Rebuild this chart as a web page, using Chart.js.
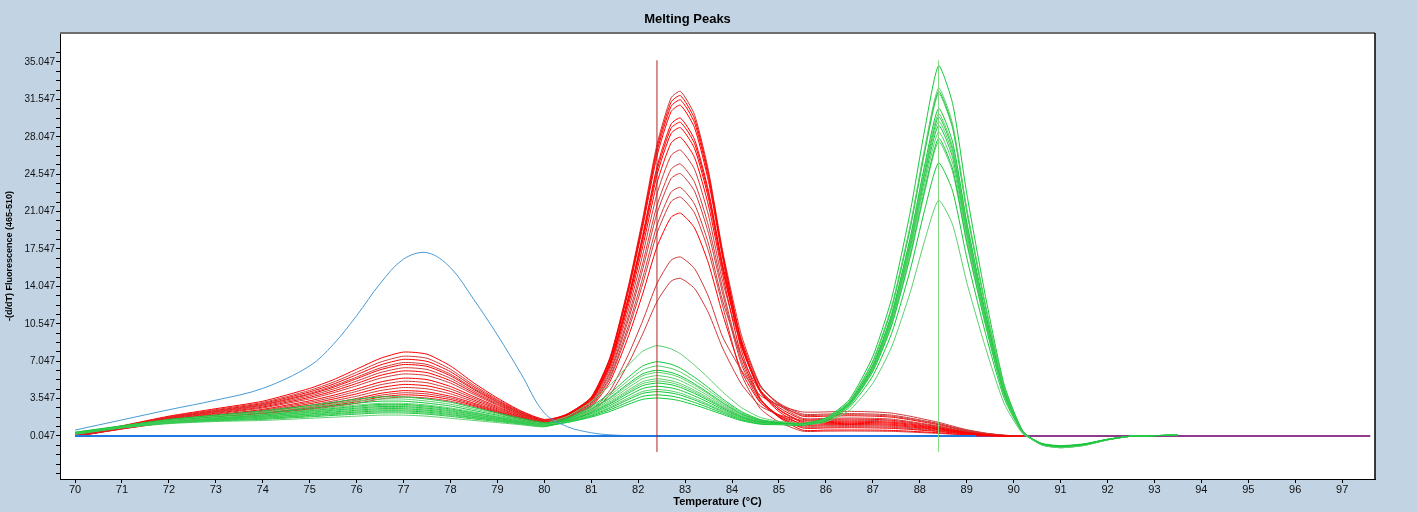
<!DOCTYPE html>
<html lang="en">
  <head>
    <meta charset="UTF-8" />
    <title>Melting Peaks</title>
    <script src="https://cdn.jsdelivr.net/npm/chart.js@4.4.0/dist/chart.umd.min.js"></script>
    <style>
      html,
      body {
        margin: 0;
        padding: 0;
        background: #c2d4e4;
      }
      .wrap {
        width: 1417px;
        height: 512px;
        position: relative;
      }
    </style>
  </head>
  <body>
    <div class="wrap"><canvas id="peaks"></canvas></div>

    <script>
      // temperature grid shared by all curves (°C)
      const temps = [
        70, 71, 72, 73, 74, 75, 75.5, 76, 76.5, 77, 77.5, 78, 78.5, 79, 79.5,
        80, 80.5, 81, 81.4, 81.8, 82.1, 82.4, 82.7, 82.9, 83.2, 83.5, 83.8,
        84.2, 84.6, 85, 85.5, 86, 86.5, 87, 87.4, 87.8, 88.1, 88.4, 88.7, 89,
        89.4, 89.8, 90.2, 90.6, 91, 91.5, 92, 92.5, 93.5,
      ];

      const xTicks = [
        70, 71, 72, 73, 74, 75, 76, 77, 78, 79, 80, 81, 82, 83, 84, 85, 86, 87,
        88, 89, 90, 91, 92, 93, 94, 95, 96, 97,
      ];
      const yMajor = [
        0.047, 3.547, 7.047, 10.547, 14.047, 17.547, 21.047, 24.547, 28.047,
        31.547, 35.047,
      ];
      const yTickLabels = [
        "0.047", "3.547", "7.047", "10.547", "14.047", "17.547", "21.047",
        "24.547", "28.047", "31.547", "35.047",
      ];

      // red samples (values up to 90.2 °C)
      const redCurves = [
        [0.15,1.0,1.9,2.6,3.3,4.5,5.3,6.3,7.3,7.9,7.7,6.6,5.0,3.6,2.4,1.6,2.05,3.46,6.84,13.04,18.68,24.89,28.84,29.4,27.43,22.63,15.86,8.45,4.22,2.53,1.4,1.4,1.43,1.4,1.33,1.15,0.98,0.81,0.59,0.39,0.2,0.07,0.05],
        [0.14,0.97,1.84,2.51,3.18,4.31,5.07,6.0,6.95,7.51,7.32,6.29,4.8,3.47,2.33,1.55,1.86,2.97,5.62,10.48,14.9,19.76,22.86,23.3,21.75,18.0,12.69,7.53,4.21,2.88,2.0,2.0,2.04,2.0,1.9,1.64,1.4,1.16,0.84,0.56,0.28,0.1,0.05],
        [0.13,0.95,1.8,2.44,3.09,4.17,4.89,5.78,6.68,7.22,7.03,6.06,4.64,3.37,2.27,1.52,2.12,3.66,7.34,14.09,20.23,26.99,31.29,31.9,29.75,24.53,17.16,8.78,4.17,2.33,1.1,1.1,1.12,1.1,1.05,0.9,0.77,0.64,0.46,0.31,0.15,0.06,0.05],
        [0.12,0.93,1.76,2.37,3.0,4.03,4.72,5.55,6.41,6.92,6.74,5.83,4.49,3.27,2.21,1.48,1.67,2.45,4.32,7.75,10.87,14.3,16.49,16.8,15.71,13.06,9.31,6.2,3.86,2.92,2.3,2.3,2.35,2.3,2.19,1.89,1.61,1.33,0.97,0.64,0.32,0.12,0.05],
        [0.11,0.92,1.73,2.32,2.94,3.94,4.6,5.41,6.24,6.73,6.56,5.68,4.39,3.21,2.18,1.46,2.0,3.34,6.56,12.46,17.82,23.71,27.46,28.0,26.12,21.57,15.14,7.5,3.48,1.87,0.8,0.8,0.82,0.8,0.76,0.66,0.56,0.46,0.34,0.22,0.11,0.04,0.05],
        [0.1,0.9,1.69,2.25,2.85,3.8,4.43,5.18,5.97,6.43,6.27,5.45,4.23,3.11,2.12,1.43,2.13,3.69,7.42,14.26,20.48,27.32,31.68,32.3,30.12,24.84,17.37,9.48,4.81,2.94,1.7,1.7,1.73,1.7,1.62,1.39,1.19,0.99,0.71,0.48,0.24,0.09,0.05],
        [0.09,0.87,1.65,2.18,2.76,3.66,4.25,4.96,5.71,6.14,5.98,5.22,4.08,3.01,2.06,1.39,1.79,2.78,5.14,9.47,13.41,17.75,20.51,20.9,19.52,16.17,11.44,6.13,3.17,1.99,1.2,1.2,1.22,1.2,1.14,0.98,0.84,0.7,0.5,0.34,0.17,0.06,0.05],
        [0.08,0.85,1.61,2.11,2.67,3.52,4.08,4.74,5.45,5.85,5.7,4.99,3.93,2.92,2.01,1.36,1.97,3.25,6.32,11.95,17.07,22.7,26.29,26.8,25.01,20.66,14.51,8.5,4.66,3.12,2.1,2.1,2.14,2.1,2.0,1.72,1.47,1.22,0.88,0.59,0.29,0.11,0.05],
        [0.06,0.83,1.55,2.02,2.54,3.34,3.85,4.44,5.09,5.46,5.32,4.68,3.72,2.79,1.94,1.31,2.09,3.58,7.16,13.72,19.68,26.23,30.4,31.0,28.91,23.85,16.7,8.05,3.58,1.79,0.6,0.6,0.61,0.6,0.57,0.49,0.42,0.35,0.25,0.17,0.08,0.03,0.05],
        [0.05,0.8,1.51,1.95,2.45,3.2,3.67,4.22,4.83,5.17,5.03,4.45,3.57,2.69,1.88,1.27,1.61,2.29,3.92,6.91,9.63,12.62,14.53,14.8,13.85,11.54,8.27,4.9,2.86,2.04,1.5,1.5,1.53,1.5,1.43,1.23,1.05,0.87,0.63,0.42,0.21,0.08,0.05],
        [0.04,0.78,1.47,1.88,2.36,3.06,3.5,3.99,4.56,4.87,4.74,4.22,3.41,2.59,1.82,1.24,2.06,3.49,6.92,13.21,18.93,25.22,29.23,29.8,27.8,22.94,16.07,9.05,4.76,3.04,1.9,1.9,1.94,1.9,1.81,1.56,1.33,1.1,0.8,0.53,0.27,0.1,0.05],
        [0.03,0.76,1.43,1.81,2.27,2.92,3.32,3.77,4.29,4.58,4.46,3.99,3.26,2.49,1.77,1.2,1.9,3.07,5.88,11.03,15.71,20.86,24.13,24.6,22.96,18.98,13.37,6.75,3.24,1.84,0.9,0.9,0.92,0.9,0.86,0.74,0.63,0.52,0.38,0.25,0.13,0.05,0.05],
        [0.02,0.74,1.38,1.74,2.18,2.78,3.15,3.55,4.03,4.29,4.17,3.76,3.11,2.4,1.71,1.17,2.11,3.62,7.26,13.93,19.99,26.65,30.89,31.5,29.38,24.23,16.96,8.88,4.33,2.51,1.3,1.3,1.33,1.3,1.24,1.07,0.91,0.75,0.55,0.36,0.18,0.07,0.05],
        [0.01,0.73,1.36,1.69,2.12,2.69,3.03,3.4,3.85,4.09,3.98,3.61,3.0,2.33,1.67,1.15,1.84,2.9,5.44,10.1,14.34,19.01,21.98,22.4,20.92,17.31,12.22,5.8,2.62,1.35,0.5,0.5,0.51,0.5,0.48,0.41,0.35,0.29,0.21,0.14,0.07,0.03,0.05],
        [0.01,0.71,1.33,1.65,2.06,2.59,2.92,3.25,3.68,3.9,3.79,3.46,2.9,2.27,1.64,1.12,2.03,3.42,6.74,12.83,18.37,24.47,28.35,28.9,26.96,22.25,15.6,8.53,4.37,2.71,1.6,1.6,1.63,1.6,1.52,1.31,1.12,0.93,0.67,0.45,0.22,0.08,0.05],
        [0.0,0.7,1.3,1.6,2.0,2.5,2.8,3.1,3.5,3.7,3.6,3.3,2.8,2.2,1.6,1.1,1.93,3.14,6.06,11.41,16.27,21.61,25.01,25.5,23.8,19.67,13.84,7.08,3.43,1.97,1.0,1.0,1.02,1.0,0.95,0.82,0.7,0.58,0.42,0.28,0.14,0.05,0.05],
      ];

      // green samples (full grid, 70 - 93.5 °C)
      const greenCurves = [
        [0.4,1.0,1.6,2.0,2.4,2.9,3.2,3.5,3.7,3.7,3.5,3.2,2.7,2.2,1.7,1.3,1.49,2.23,3.05,4.08,4.77,5.0,4.84,4.59,4.02,3.36,2.66,1.83,1.33,1.22,1.19,1.74,3.46,7.5,12.92,21.1,28.59,34.7,31.15,22.77,13.11,4.83,0.49,-0.71,-0.95,-0.76,-0.29,0.02,0.12],
        [0.38,0.98,1.55,1.93,2.29,2.76,3.03,3.31,3.5,3.5,3.31,3.02,2.56,2.09,1.63,1.25,1.91,3.28,4.8,6.7,7.99,8.5,8.2,7.74,6.68,5.46,4.17,2.7,1.79,1.42,1.24,1.67,3.29,7.08,12.16,19.84,26.87,32.6,29.26,21.38,12.31,4.54,0.45,-0.79,-1.05,-0.84,-0.32,0.02,0.12],
        [0.35,0.95,1.51,1.86,2.19,2.62,2.87,3.12,3.3,3.3,3.12,2.85,2.42,1.99,1.56,1.21,1.64,2.59,3.65,4.98,5.88,6.2,5.99,5.67,4.93,4.08,3.18,2.13,1.49,1.28,1.2,1.66,3.27,7.02,12.06,19.66,26.62,32.3,28.99,21.19,12.2,4.49,0.44,-0.68,-0.9,-0.72,-0.27,0.02,0.12],
        [0.33,0.93,1.46,1.79,2.08,2.48,2.71,2.94,3.1,3.1,2.94,2.67,2.28,1.88,1.49,1.16,1.42,2.05,2.75,3.63,4.22,4.4,4.26,4.05,3.56,3.0,2.41,1.68,1.26,1.17,1.15,1.66,3.25,6.98,11.98,19.54,26.46,32.1,28.81,21.05,12.12,4.47,0.44,-0.75,-1.0,-0.8,-0.3,0.02,0.12],
        [0.32,0.92,1.44,1.75,2.03,2.41,2.62,2.84,3.0,3.0,2.84,2.58,2.21,1.83,1.45,1.14,1.73,2.83,4.05,5.58,6.61,7.0,6.76,6.39,5.54,4.56,3.52,2.33,1.59,1.32,1.19,1.62,3.14,6.7,11.48,18.7,25.31,30.7,27.55,20.13,11.59,4.27,0.41,-0.71,-0.95,-0.76,-0.29,0.02,0.12],
        [0.31,0.91,1.41,1.72,1.98,2.33,2.54,2.75,2.9,2.9,2.75,2.49,2.13,1.78,1.42,1.11,1.54,2.35,3.25,4.38,5.14,5.4,5.22,4.95,4.32,3.6,2.84,1.93,1.39,1.22,1.15,1.6,3.1,6.6,11.3,18.4,24.9,30.2,27.1,19.8,11.4,4.2,0.4,-0.75,-1.0,-0.8,-0.3,0.02,0.12],
        [0.29,0.89,1.39,1.68,1.92,2.27,2.46,2.65,2.8,2.8,2.65,2.41,2.07,1.72,1.38,1.09,1.36,1.9,2.5,3.25,3.76,3.9,3.78,3.6,3.18,2.7,2.19,1.55,1.19,1.13,1.12,1.59,3.08,6.54,11.19,18.22,24.65,29.9,26.83,19.6,11.29,4.16,0.39,-0.68,-0.9,-0.72,-0.27,0.02,0.12],
        [0.28,0.88,1.36,1.65,1.87,2.19,2.38,2.56,2.7,2.7,2.56,2.32,1.99,1.67,1.35,1.06,1.68,2.71,3.85,5.28,6.24,6.6,6.37,6.03,5.23,4.32,3.35,2.23,1.54,1.29,1.16,1.58,3.04,6.46,11.05,17.98,24.33,29.5,26.47,19.34,11.13,4.1,0.39,-0.79,-1.05,-0.84,-0.32,0.02,0.12],
        [0.27,0.87,1.34,1.61,1.82,2.12,2.29,2.46,2.6,2.6,2.46,2.23,1.92,1.62,1.31,1.04,1.46,2.14,2.9,3.85,4.5,4.7,4.55,4.32,3.79,3.18,2.53,1.75,1.29,1.18,1.13,1.57,3.01,6.38,10.9,17.74,24.0,29.1,26.11,19.07,10.98,4.05,0.38,-0.71,-0.95,-0.76,-0.29,0.02,0.12],
        [0.26,0.86,1.32,1.58,1.76,2.05,2.21,2.37,2.5,2.5,2.37,2.14,1.85,1.56,1.28,1.02,1.61,2.53,3.55,4.83,5.69,6.0,5.8,5.49,4.78,3.96,3.09,2.08,1.46,1.25,1.14,1.55,2.96,6.26,10.69,17.38,23.51,28.5,25.57,18.68,10.75,3.96,0.37,-0.75,-1.0,-0.8,-0.3,0.02,0.12],
        [0.25,0.85,1.29,1.54,1.71,1.98,2.13,2.28,2.4,2.4,2.28,2.05,1.78,1.51,1.24,0.99,1.32,1.81,2.35,3.03,3.48,3.6,3.49,3.33,2.95,2.52,2.06,1.48,1.15,1.1,1.08,1.53,2.92,6.14,10.47,17.02,23.01,27.9,25.03,18.28,10.53,3.88,0.35,-0.68,-0.9,-0.72,-0.27,0.02,0.12],
        [0.24,0.84,1.27,1.51,1.66,1.91,2.05,2.18,2.3,2.3,2.18,1.96,1.71,1.46,1.21,0.97,1.58,2.44,3.4,4.6,5.42,5.7,5.51,5.22,4.55,3.78,2.96,2.0,1.42,1.23,1.13,1.52,2.89,6.08,10.36,16.84,22.77,27.6,24.76,18.08,10.41,3.84,0.35,-0.79,-1.05,-0.84,-0.32,0.02,0.12],
        [0.22,0.82,1.25,1.47,1.61,1.84,1.97,2.09,2.2,2.2,2.09,1.88,1.64,1.41,1.17,0.95,1.4,1.99,2.65,3.48,4.04,4.2,4.07,3.87,3.41,2.88,2.32,1.63,1.23,1.13,1.07,1.46,2.73,5.68,9.64,15.64,21.13,25.6,22.96,16.76,9.65,3.56,0.31,-0.71,-0.95,-0.76,-0.29,0.02,0.12],
        [0.2,0.8,1.2,1.4,1.5,1.7,1.8,1.9,2.0,2.0,1.9,1.7,1.5,1.3,1.1,0.9,1.52,2.29,3.15,4.23,4.96,5.2,5.03,4.77,4.17,3.48,2.75,1.88,1.36,1.17,1.06,1.36,2.45,4.98,8.38,13.54,18.26,22.1,19.81,14.45,8.32,3.07,0.24,-0.64,-0.85,-0.68,-0.26,0.02,0.12],
      ];

      // single blue sample (70 - 82.1 °C)
      const blueCurve = [
        0.6, 1.55, 2.5, 3.4, 4.5, 6.6, 8.6, 11.3, 14.3, 16.6, 17.2, 15.8, 12.8,
        9.5, 5.9, 2.2, 0.9, 0.35, 0.15, 0.08, 0.05,
      ];

      // flat negative controls
      const baseline = 0.047;
      const flatBlueX = [70, 89.2];
      const flatPurpleX = [70, 97.6];

      // Tm markers
      const markerTemps = [82.4, 88.4];
      const markerColors = ["#b22222", "#7fd87f"];
      const markerRange = [-1.45, 35.2];

      // major ticks every 3.5, three minor ticks in between
      const yTickValues = [];
      for (let k = -4; k <= 41; k++) yTickValues.push(yMajor[0] + k * 0.875);

      const toPoints = (ys) => ys.map((y, i) => ({ x: temps[i], y }));

      const datasets = [];
      markerTemps.forEach((t, i) => {
        datasets.push({
          data: markerRange.map((y) => ({ x: t, y })),
          borderColor: markerColors[i],
          borderWidth: 1,
          tension: 0,
        });
      });
      datasets.push({
        data: flatBlueX.map((x) => ({ x, y: baseline })),
        borderColor: "#1f78e0",
        borderWidth: 2,
        tension: 0,
      });
      datasets.push({
        data: toPoints(blueCurve),
        borderColor: "#4a9bd4",
        borderWidth: 1,
        tension: 0.35,
      });
      greenCurves.forEach((c, i) => {
        datasets.push({
          data: toPoints(c),
          borderColor: i % 2 ? "#5ccf6c" : "#14c83a",
          borderWidth: 1,
        });
      });
      redCurves.forEach((c, i) => {
        datasets.push({
          data: toPoints(c),
          borderColor: i % 2 ? "#cf3a3a" : "#ff0000",
          borderWidth: 1,
        });
      });
      datasets.push({
        data: flatPurpleX.map((x) => ({ x, y: baseline })),
        borderColor: "#8e3b8e",
        borderWidth: 2,
        tension: 0,
      });

      // white plot area plus top/right frame
      const frame = {
        id: "frame",
        beforeDraw(chart) {
          const { ctx, chartArea: a } = chart;
          ctx.save();
          ctx.fillStyle = "#ffffff";
          ctx.fillRect(a.left, a.top, a.right - a.left, a.bottom - a.top);
          ctx.restore();
        },
        afterDraw(chart) {
          const { ctx, chartArea: a } = chart;
          ctx.save();
          ctx.strokeStyle = "#6e6e6e";
          ctx.lineWidth = 2;
          ctx.beginPath();
          ctx.moveTo(a.left, a.top);
          ctx.lineTo(a.right, a.top);
          ctx.stroke();
          ctx.strokeStyle = "#000";
          ctx.lineWidth = 1.5;
          ctx.beginPath();
          ctx.moveTo(a.right, a.top);
          ctx.lineTo(a.right, a.bottom);
          ctx.stroke();
          ctx.restore();
        },
      };

      Chart.defaults.font.family = "'Liberation Sans', Arial, sans-serif";
      Chart.defaults.color = "#111";

      new Chart(document.getElementById("peaks"), {
        type: "line",
        data: { datasets },
        plugins: [frame],
        options: {
          responsive: true,
          maintainAspectRatio: false,
          animation: false,
          layout: { padding: { top: 0, right: 42, left: 0, bottom: 0 } },
          elements: {
            point: { radius: 0 },
            line: { tension: 0.2, fill: false },
          },
          plugins: {
            legend: { display: false },
            tooltip: { enabled: false },
            title: {
              display: true,
              text: "Melting Peaks",
              color: "#000",
              font: { size: 13, weight: "bold" },
              padding: { top: 12, bottom: 5.4 },
            },
          },
          scales: {
            x: {
              type: "linear",
              min: 69.68,
              max: 97.7,
              afterBuildTicks: (s) => {
                s.ticks = xTicks.map((v) => ({ value: v }));
              },
              afterFit: (s) => {
                s.height = 33;
              },
              ticks: {
                autoSkip: false,
                maxRotation: 0,
                padding: 0,
                font: { size: 11 },
                callback: (v) => String(v),
              },
              grid: {
                drawOnChartArea: false,
                tickLength: 4,
                color: "#000",
              },
              border: { display: true, color: "#000", width: 1 },
              title: {
                display: true,
                text: "Temperature (°C)",
                color: "#000",
                font: { size: 11, weight: "bold" },
                padding: { top: 0, bottom: 3 },
              },
            },
            y: {
              type: "linear",
              min: -3.98,
              max: 37.76,
              afterBuildTicks: (s) => {
                s.ticks = yTickValues.map((v) => ({ value: v }));
              },
              afterFit: (s) => {
                s.width = 60;
              },
              ticks: {
                autoSkip: false,
                padding: 1,
                font: { size: 10 },
                callback: (v) => {
                  const i = yMajor.findIndex((m) => Math.abs(m - v) < 1e-6);
                  return i >= 0 ? yTickLabels[i] : "";
                },
              },
              grid: {
                drawOnChartArea: false,
                tickLength: 4,
                color: "#000",
              },
              border: { display: true, color: "#000", width: 1 },
              title: {
                display: true,
                text: "-(d/dT) Fluorescence (465-510)",
                color: "#000",
                font: { size: 9, weight: "bold" },
                padding: { top: 4, bottom: 0 },
              },
            },
          },
        },
      });
    </script>
  </body>
</html>
